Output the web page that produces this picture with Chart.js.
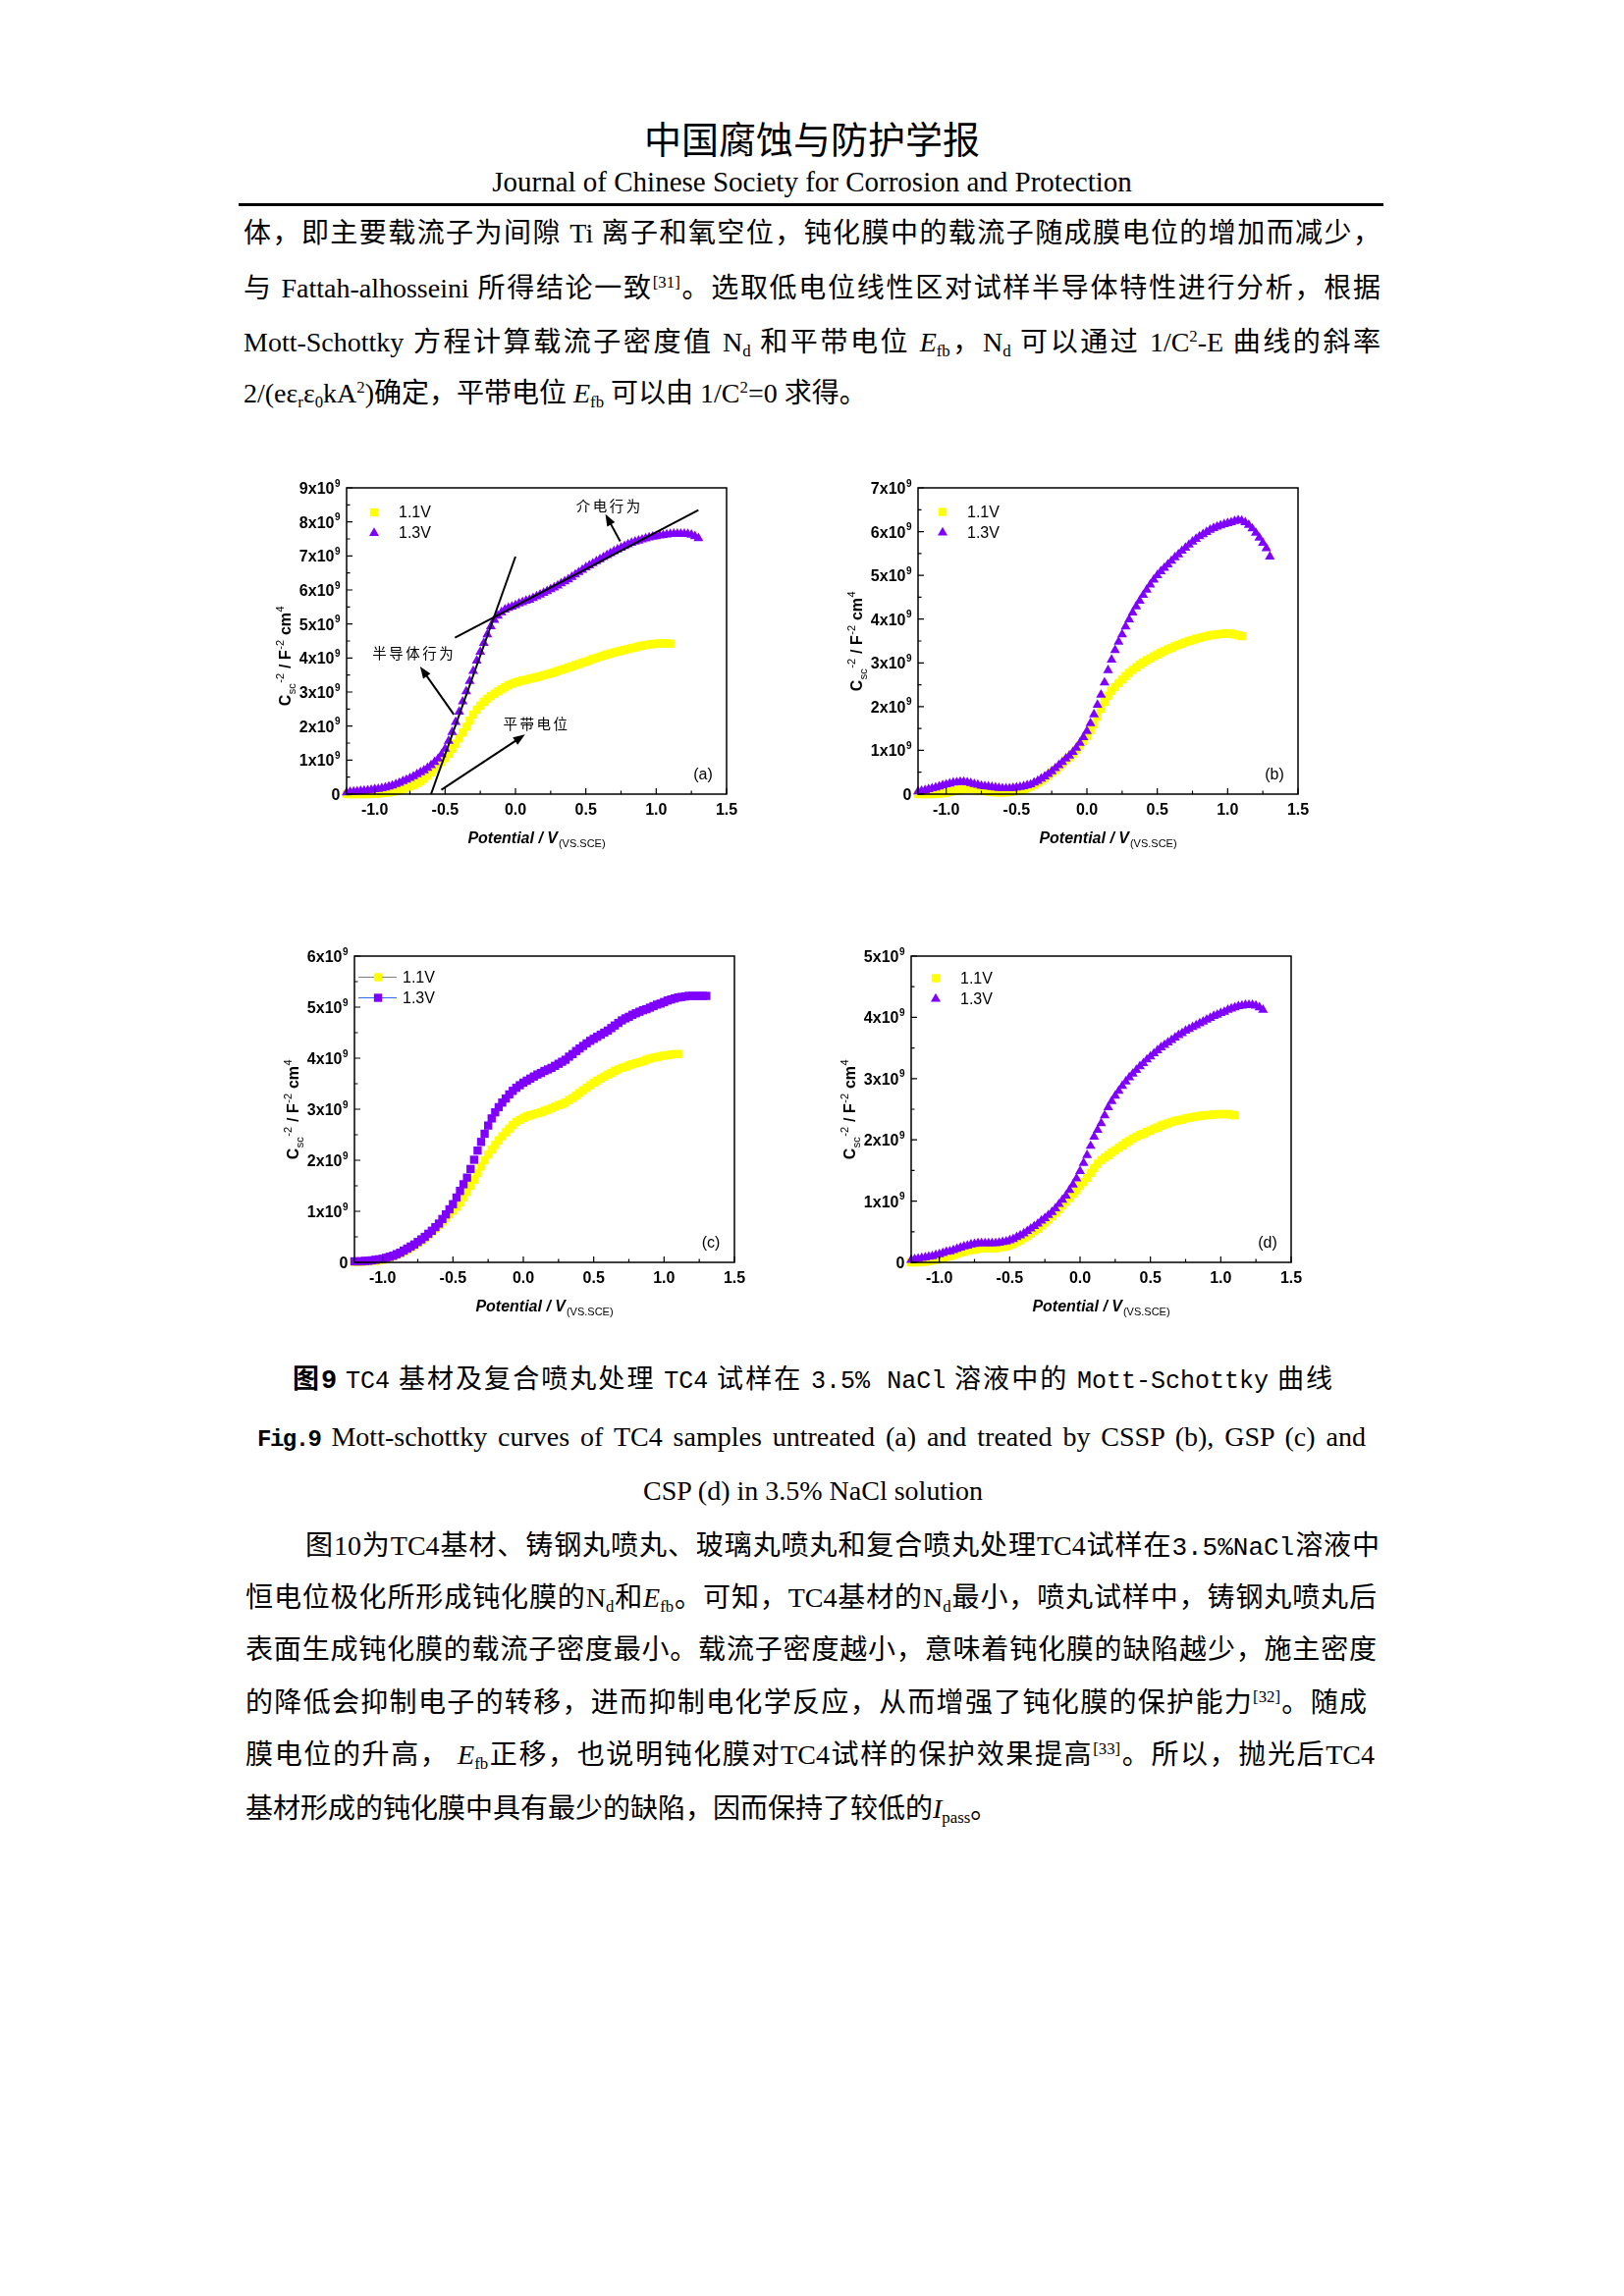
<!DOCTYPE html>
<html>
<head>
<meta charset="utf-8">
<script src="https://cdn.jsdelivr.net/npm/chart.js@4.4.0/dist/chart.umd.min.js"></script>
<style>
html, body { margin: 0; padding: 0; background: #fff; }
#page { position: relative; width: 1654px; height: 2339px; overflow: hidden; background: #fff; color: #000;
  font-family: "Liberation Serif", "Noto Sans CJK SC", serif; }
.ln { position: absolute; font-size: 28px; line-height: 1; text-align: justify; text-align-last: justify; }
.left { text-align: left; text-align-last: left; }
.ctr { text-align: center; text-align-last: center; }
.mono { font-family: "Liberation Mono", "Noto Sans CJK SC", monospace; }
sup, sub { font-size: 0.6em; line-height: 0; }
sup { vertical-align: 0.6em; }
sub { vertical-align: -0.3em; }
canvas { position: absolute; }
</style>
</head>
<body>
<div id="page">
  <div class="ln ctr" style="left:0;width:1654px;top:121px;font-size:38px;font-family:'Noto Sans CJK SC';">中国腐蚀与防护学报</div>
  <div class="ln ctr" style="left:0;width:1654px;top:171px;font-size:29px;">Journal of Chinese Society for Corrosion and Protection</div>
  <div style="position:absolute;left:243px;top:207px;width:1166px;height:3px;background:#000;"></div>

  <div class="ln" style="left:248px;width:1158px;top:224px;">体，即主要载流子为间隙 Ti 离子和氧空位，钝化膜中的载流子随成膜电位的增加而减少，</div>
  <div class="ln" style="left:248px;width:1158px;top:280px;">与 Fattah-alhosseini 所得结论一致<sup>[31]</sup>。选取低电位线性区对试样半导体特性进行分析，根据</div>
  <div class="ln" style="left:248px;width:1158px;top:335px;">Mott-Schottky 方程计算载流子密度值 N<sub>d</sub> 和平带电位 <i>E</i><sub>fb</sub>，N<sub>d</sub> 可以通过 1/C<sup>2</sup>-E 曲线的斜率</div>
  <div class="ln left" style="left:248px;width:1158px;top:387px;">2/(eε<sub>r</sub>ε<sub>0</sub>kA<sup>2</sup>)确定，平带电位 <i>E</i><sub>fb</sub> 可以由 1/C<sup>2</sup>=0 求得。</div>

  <canvas id="chartA" width="500" height="400" style="left:268px;top:477px;width:500px;height:400px;"></canvas>
  <canvas id="chartB" width="500" height="400" style="left:850px;top:477px;width:500px;height:400px;"></canvas>
  <canvas id="chartC" width="500" height="400" style="left:276px;top:954px;width:500px;height:400px;"></canvas>
  <canvas id="chartD" width="500" height="400" style="left:843px;top:954px;width:500px;height:400px;"></canvas>

  <div class="ln" style="left:298px;width:1059px;top:1392px;font-size:27px;"><b>图<span class="mono">9</span></b> <span class="mono" style="font-size:25px">TC4</span> 基材及复合喷丸处理 <span class="mono" style="font-size:25px">TC4</span> 试样在 <span class="mono" style="font-size:25px">3.5% NaCl</span> 溶液中的 <span class="mono" style="font-size:25px">Mott-Schottky</span> 曲线</div>
  <div class="ln" style="left:262px;width:1129px;top:1450px;"><b class="mono" style="font-size:24px;letter-spacing:-1.5px;">Fig.9</b> Mott-schottky curves of TC4 samples untreated (a) and treated by CSSP (b), GSP (c) and</div>
  <div class="ln ctr" style="left:0;width:1656px;top:1505px;">CSP (d) in 3.5% NaCl solution</div>

  <div class="ln" style="left:311px;width:1094px;top:1561px;">图10为TC4基材、铸钢丸喷丸、玻璃丸喷丸和复合喷丸处理TC4试样在<span class="mono" style="font-size:26px">3.5%NaCl</span>溶液中</div>
  <div class="ln" style="left:250px;width:1152px;top:1614px;">恒电位极化所形成钝化膜的N<sub>d</sub>和<i>E</i><sub>fb</sub>。可知，TC4基材的N<sub>d</sub>最小，喷丸试样中，铸钢丸喷丸后</div>
  <div class="ln" style="left:250px;width:1152px;top:1667px;">表面生成钝化膜的载流子密度最小。载流子密度越小，意味着钝化膜的缺陷越少，施主密度</div>
  <div class="ln" style="left:250px;width:1142px;top:1721px;">的降低会抑制电子的转移，进而抑制电化学反应，从而增强了钝化膜的保护能力<sup>[32]</sup>。随成</div>
  <div class="ln" style="left:250px;width:1150px;top:1774px;">膜电位的升高， <i>E</i><sub>fb</sub>正移，也说明钝化膜对TC4试样的保护效果提高<sup>[33]</sup>。所以，抛光后TC4</div>
  <div class="ln left" style="left:250px;width:1152px;top:1829px;">基材形成的钝化膜中具有最少的缺陷，因而保持了较低的<i>I</i><sub>pass</sub>。</div>
</div>

<script>
// Potential / V (vs. SCE), shared by every curve (yellow curves stop at 1.1 V)
const potential = [
  -1.2, -1.175, -1.15, -1.125, -1.1, -1.075, -1.05, -1.025,
  -1.0, -0.975, -0.95, -0.925, -0.9, -0.875, -0.85, -0.825, -0.8, -0.775, -0.75, -0.725, -0.7, -0.675, -0.65, -0.625, -0.6, -0.575, -0.55, -0.525,
  -0.5, -0.475, -0.45, -0.425, -0.4, -0.375, -0.35, -0.325, -0.3, -0.275, -0.25, -0.225, -0.2, -0.175, -0.15, -0.125, -0.1, -0.075, -0.05, -0.025,
  0.0, 0.025, 0.05, 0.075, 0.1, 0.125, 0.15, 0.175, 0.2, 0.225, 0.25, 0.275, 0.3, 0.325, 0.35, 0.375, 0.4, 0.425, 0.45, 0.475,
  0.5, 0.525, 0.55, 0.575, 0.6, 0.625, 0.65, 0.675, 0.7, 0.725, 0.75, 0.775, 0.8, 0.825, 0.85, 0.875, 0.9, 0.925, 0.95, 0.975,
  1.0, 1.025, 1.05, 1.075, 1.1, 1.125, 1.15, 1.175, 1.2, 1.225, 1.25, 1.275, 1.3
];

const seriesNames = ['1.1V', '1.3V'];
const panelLabels = ['(a)', '(b)', '(c)', '(d)'];

// C^-2 values in units of 1e9 F^-2 cm^4
const untreated11 = [
  0, 0, 0, 0, 0, 0, 0, 0.01,
  0.01, 0.02, 0.03, 0.04, 0.05, 0.07, 0.09, 0.12, 0.15, 0.19, 0.23, 0.27, 0.32, 0.38, 0.45, 0.54, 0.64, 0.74, 0.85, 0.95,
  1.06, 1.19, 1.33, 1.48, 1.64, 1.81, 1.98, 2.16, 2.34, 2.48, 2.60, 2.71, 2.80, 2.88, 2.95, 3.02, 3.08, 3.14, 3.20, 3.24,
  3.28, 3.31, 3.34, 3.36, 3.39, 3.41, 3.44, 3.46, 3.49, 3.52, 3.55, 3.58, 3.62, 3.65, 3.68, 3.72, 3.75, 3.79, 3.82, 3.86,
  3.89, 3.93, 3.97, 4.00, 4.04, 4.07, 4.10, 4.13, 4.16, 4.19, 4.21, 4.24, 4.26, 4.29, 4.31, 4.34, 4.36, 4.38, 4.40, 4.41,
  4.42, 4.43, 4.43, 4.43, 4.42
];
const untreated13 = [
  0.05, 0.06, 0.07, 0.08, 0.09, 0.10, 0.11, 0.12,
  0.14, 0.15, 0.17, 0.19, 0.22, 0.25, 0.29, 0.33, 0.38, 0.42, 0.47, 0.52, 0.58, 0.64, 0.70, 0.77, 0.85, 0.94, 1.04, 1.17,
  1.33, 1.56, 1.82, 2.12, 2.42, 2.72, 3.02, 3.32, 3.62, 3.92, 4.18, 4.44, 4.69, 4.93, 5.12, 5.24, 5.34, 5.42, 5.47, 5.51,
  5.55, 5.60, 5.64, 5.68, 5.71, 5.76, 5.81, 5.86, 5.91, 5.96, 6.02, 6.07, 6.13, 6.19, 6.25, 6.31, 6.38, 6.45, 6.52, 6.59,
  6.66, 6.72, 6.78, 6.84, 6.90, 6.96, 7.02, 7.08, 7.14, 7.19, 7.24, 7.29, 7.34, 7.38, 7.42, 7.45, 7.48, 7.51, 7.54, 7.56,
  7.58, 7.60, 7.61, 7.63, 7.64, 7.65, 7.65, 7.65, 7.65, 7.64, 7.62, 7.58, 7.52
];
const cssp11 = [
  0, 0, 0, 0, 0, 0.01, 0.01, 0.02,
  0.03, 0.05, 0.07, 0.09, 0.10, 0.11, 0.12, 0.12, 0.11, 0.10, 0.08, 0.07, 0.06, 0.05, 0.04, 0.04, 0.04, 0.04, 0.05, 0.06,
  0.07, 0.09, 0.11, 0.14, 0.17, 0.21, 0.26, 0.31, 0.36, 0.42, 0.49, 0.55, 0.62, 0.69, 0.77, 0.84, 0.92, 1.01, 1.11, 1.22,
  1.33, 1.46, 1.60, 1.77, 1.95, 2.11, 2.25, 2.36, 2.45, 2.54, 2.62, 2.70, 2.77, 2.84, 2.90, 2.96, 3.01, 3.06, 3.10, 3.15,
  3.19, 3.23, 3.27, 3.31, 3.34, 3.38, 3.41, 3.44, 3.47, 3.50, 3.52, 3.55, 3.57, 3.59, 3.61, 3.63, 3.64, 3.65, 3.66, 3.67,
  3.67, 3.67, 3.65, 3.63, 3.61
];
const cssp13 = [
  0.06, 0.07, 0.09, 0.11, 0.13, 0.15, 0.17, 0.20,
  0.22, 0.24, 0.26, 0.27, 0.28, 0.28, 0.27, 0.25, 0.23, 0.21, 0.19, 0.18, 0.17, 0.16, 0.15, 0.14, 0.13, 0.13, 0.13, 0.14,
  0.15, 0.16, 0.18, 0.20, 0.22, 0.26, 0.30, 0.35, 0.40, 0.46, 0.52, 0.59, 0.66, 0.73, 0.81, 0.88, 0.96, 1.06, 1.17, 1.30,
  1.44, 1.62, 1.82, 2.04, 2.27, 2.55, 2.83, 3.07, 3.29, 3.48, 3.65, 3.83, 3.99, 4.15, 4.29, 4.42, 4.55, 4.67, 4.79, 4.90,
  5.00, 5.09, 5.17, 5.25, 5.33, 5.41, 5.48, 5.56, 5.63, 5.70, 5.77, 5.83, 5.89, 5.94, 5.99, 6.04, 6.08, 6.11, 6.14, 6.17,
  6.19, 6.21, 6.24, 6.26, 6.25, 6.21, 6.15, 6.07, 5.97, 5.86, 5.74, 5.62, 5.43
];
const gsp11 = [
  0.01, 0.01, 0.01, 0.02, 0.02, 0.03, 0.03, 0.04,
  0.05, 0.07, 0.09, 0.12, 0.15, 0.18, 0.21, 0.25, 0.29, 0.33, 0.38, 0.43, 0.48, 0.54, 0.60, 0.66, 0.73, 0.80, 0.87, 0.94,
  1.01, 1.09, 1.17, 1.27, 1.38, 1.50, 1.62, 1.75, 1.88, 2.00, 2.11, 2.21, 2.30, 2.39, 2.47, 2.55, 2.62, 2.69, 2.75, 2.79,
  2.83, 2.86, 2.88, 2.90, 2.92, 2.94, 2.97, 2.99, 3.02, 3.05, 3.08, 3.10, 3.13, 3.18, 3.22, 3.27, 3.32, 3.37, 3.42, 3.47,
  3.52, 3.56, 3.60, 3.64, 3.68, 3.71, 3.75, 3.78, 3.81, 3.83, 3.86, 3.88, 3.90, 3.92, 3.94, 3.97, 3.99, 4.01, 4.02, 4.04,
  4.05, 4.06, 4.07, 4.08, 4.08
];
const gsp13 = [
  0.02, 0.02, 0.02, 0.03, 0.03, 0.04, 0.05, 0.06,
  0.07, 0.09, 0.11, 0.13, 0.16, 0.19, 0.23, 0.27, 0.31, 0.35, 0.40, 0.45, 0.50, 0.56, 0.62, 0.69, 0.76, 0.85, 0.94, 1.04,
  1.14, 1.27, 1.40, 1.53, 1.66, 1.83, 2.01, 2.19, 2.36, 2.52, 2.68, 2.82, 2.94, 3.04, 3.13, 3.21, 3.29, 3.36, 3.42, 3.47,
  3.52, 3.56, 3.60, 3.64, 3.68, 3.71, 3.75, 3.78, 3.81, 3.85, 3.89, 3.93, 3.97, 4.03, 4.08, 4.14, 4.19, 4.24, 4.29, 4.34,
  4.38, 4.42, 4.46, 4.50, 4.54, 4.59, 4.64, 4.69, 4.74, 4.78, 4.81, 4.85, 4.88, 4.91, 4.94, 4.96, 4.99, 5.02, 5.05, 5.07,
  5.10, 5.13, 5.15, 5.17, 5.19, 5.20, 5.21, 5.22, 5.22, 5.22, 5.22, 5.22, 5.22
];
const csp11 = [
  0, 0, 0, 0.01, 0.01, 0.02, 0.03, 0.04,
  0.06, 0.07, 0.09, 0.10, 0.12, 0.14, 0.16, 0.17, 0.19, 0.20, 0.21, 0.22, 0.23, 0.23, 0.23, 0.23, 0.23, 0.24, 0.25, 0.26,
  0.28, 0.30, 0.33, 0.36, 0.40, 0.43, 0.47, 0.51, 0.55, 0.60, 0.65, 0.70, 0.75, 0.81, 0.87, 0.93, 0.99, 1.05, 1.12, 1.18,
  1.25, 1.31, 1.38, 1.46, 1.54, 1.61, 1.67, 1.71, 1.75, 1.79, 1.83, 1.87, 1.91, 1.95, 1.98, 2.02, 2.05, 2.08, 2.10, 2.13,
  2.15, 2.18, 2.20, 2.23, 2.25, 2.27, 2.29, 2.31, 2.32, 2.33, 2.35, 2.36, 2.37, 2.38, 2.39, 2.40, 2.40, 2.41, 2.41, 2.42,
  2.42, 2.42, 2.42, 2.41, 2.40
];
const csp13 = [
  0.04, 0.05, 0.06, 0.07, 0.08, 0.09, 0.10, 0.12,
  0.13, 0.15, 0.17, 0.18, 0.20, 0.22, 0.24, 0.26, 0.27, 0.29, 0.30, 0.31, 0.31, 0.31, 0.31, 0.31, 0.31, 0.32, 0.33, 0.34,
  0.36, 0.38, 0.41, 0.44, 0.47, 0.51, 0.55, 0.59, 0.63, 0.68, 0.72, 0.77, 0.82, 0.88, 0.95, 1.02, 1.09, 1.18, 1.27, 1.37,
  1.49, 1.62, 1.75, 1.90, 2.05, 2.16, 2.27, 2.40, 2.53, 2.63, 2.72, 2.80, 2.88, 2.95, 3.02, 3.08, 3.14, 3.20, 3.25, 3.31,
  3.36, 3.41, 3.46, 3.51, 3.55, 3.59, 3.63, 3.67, 3.71, 3.74, 3.78, 3.81, 3.84, 3.87, 3.90, 3.93, 3.96, 3.99, 4.02, 4.04,
  4.07, 4.09, 4.12, 4.14, 4.16, 4.18, 4.19, 4.20, 4.20, 4.20, 4.19, 4.16, 4.12
];

// axis ticks
const xMajorTicks = [-1.0, -0.5, 0.0, 0.5, 1.0, 1.5];
const xTickLabels = ['-1.0', '-0.5', '0.0', '0.5', '1.0', '1.5'];
const xMinorTicks = [-0.75, -0.25, 0.25, 0.75, 1.25];
const yTicksA = [0, 1, 2, 3, 4, 5, 6, 7, 8, 9];
const yTicksB = [0, 1, 2, 3, 4, 5, 6, 7];
const yTicksC = [0, 1, 2, 3, 4, 5, 6];
const yTicksD = [0, 1, 2, 3, 4, 5];

// annotations of panel (a), in data units
const tangentSteepA = [{ x: -0.60, y: 0 }, { x: 0.0, y: 6.98 }];
const tangentFlatA = [{ x: -0.43, y: 4.6 }, { x: 1.30, y: 8.35 }];
const arrowsA = [
  { from: [0.744, 7.43], to: [0.639, 8.23] },
  { from: [-0.438, 2.34], to: [-0.678, 3.75] },
  { from: [-0.527, 0.125], to: [0.068, 1.75] }
];
const notesA = [
  { text: '介电行为', x: 0.43, y: 8.47 },
  { text: '半导体行为', x: -1.016, y: 4.13 },
  { text: '平带电位', x: -0.088, y: 2.07 }
];

const YELLOW = '#ffff00';
const PURPLE = '#7f00ff';
const SANS = '"Liberation Sans", Arial, sans-serif';
const TRI_R = 5.8;
const SQ_R = 5.9;

function pts(vals) {
  return vals.map((v, i) => ({ x: potential[i], y: v }));
}

function marker(ctx, style, r, x, y) {
  ctx.beginPath();
  if (style === 'triangle') {
    for (let k = 0; k < 3; k++) {
      const a = k * 2 * Math.PI / 3;
      const px = x + Math.sin(a) * r, py = y - Math.cos(a) * r;
      if (k === 0) ctx.moveTo(px, py); else ctx.lineTo(px, py);
    }
    ctx.closePath();
  } else {
    const s = r * Math.SQRT1_2;
    ctx.rect(x - s, y - s, 2 * s, 2 * s);
  }
  ctx.fill();
}

function arrow(ctx, x1, y1, x2, y2) {
  const ang = Math.atan2(y2 - y1, x2 - x1), L = 12, W = 4.5;
  ctx.beginPath();
  ctx.moveTo(x1, y1);
  ctx.lineTo(x2 - Math.cos(ang) * L * 0.8, y2 - Math.sin(ang) * L * 0.8);
  ctx.stroke();
  ctx.beginPath();
  ctx.moveTo(x2, y2);
  ctx.lineTo(x2 - L * Math.cos(ang) + W * Math.sin(ang), y2 - L * Math.sin(ang) - W * Math.cos(ang));
  ctx.lineTo(x2 - L * Math.cos(ang) - W * Math.sin(ang), y2 - L * Math.sin(ang) + W * Math.cos(ang));
  ctx.closePath();
  ctx.fill();
}

// frame, ticks, labels, legend drawn with the chart's own scales
const framePlugin = {
  id: 'frame',
  afterDraw(chart, args, o) {
    const ctx = chart.ctx, a = chart.chartArea;
    const xs = chart.scales.x, ys = chart.scales.y;
    ctx.save();
    ctx.strokeStyle = '#000';
    ctx.fillStyle = '#000';

    ctx.lineWidth = 1.5;
    ctx.strokeRect(a.left, a.top, a.right - a.left, a.bottom - a.top);

    ctx.lineWidth = 1.2;
    ctx.beginPath();
    xMajorTicks.forEach(v => {
      const p = xs.getPixelForValue(v);
      ctx.moveTo(p, a.bottom); ctx.lineTo(p, a.bottom - 6);
    });
    xMinorTicks.forEach(v => {
      const p = xs.getPixelForValue(v);
      ctx.moveTo(p, a.bottom); ctx.lineTo(p, a.bottom - 3.5);
    });
    o.yTicks.forEach((v, i) => {
      const p = ys.getPixelForValue(v);
      ctx.moveTo(a.left, p); ctx.lineTo(a.left + 6, p);
      if (i < o.yTicks.length - 1) {
        const m = (p + ys.getPixelForValue(o.yTicks[i + 1])) / 2;
        ctx.moveTo(a.left, m); ctx.lineTo(a.left + 3.5, m);
      }
    });
    ctx.stroke();

    // x tick labels
    ctx.font = 'bold 16px ' + SANS;
    ctx.textAlign = 'center';
    ctx.textBaseline = 'alphabetic';
    xMajorTicks.forEach((v, i) => ctx.fillText(xTickLabels[i], xs.getPixelForValue(v), a.bottom + 20.5));

    // y tick labels  "Nx10^9"
    ctx.textAlign = 'left';
    o.yTicks.forEach(v => {
      const p = ys.getPixelForValue(v);
      const main = v === 0 ? '0' : v + 'x10';
      ctx.font = 'bold 10px ' + SANS;
      const sw = v === 0 ? 0 : ctx.measureText('9').width + 0.5;
      ctx.font = 'bold 16px ' + SANS;
      const mw = ctx.measureText(main).width;
      const x0 = a.left - 6.5 - sw - mw;
      ctx.fillText(main, x0, p + 6);
      if (v !== 0) {
        ctx.font = 'bold 10px ' + SANS;
        ctx.fillText('9', x0 + mw + 0.5, p - 1.5);
      }
    });

    // x title
    const mainF = 'italic bold 16px ' + SANS, subF = '11px ' + SANS;
    ctx.font = mainF;
    const t1 = 'Potential / V', w1 = ctx.measureText(t1).width;
    ctx.font = subF;
    const t2 = '(VS.SCE)', w2 = ctx.measureText(t2).width;
    const tx = (a.left + a.right) / 2 - (w1 + w2 + 1) / 2;
    ctx.font = mainF;
    ctx.fillText(t1, tx, a.bottom + 49.5);
    ctx.font = subF;
    ctx.fillText(t2, tx + w1 + 1, a.bottom + 54);

    // y title, rotated
    const segs = [
      ['C', 'bold 16px ' + SANS, 0], ['sc', '11px ' + SANS, 5], ['-2', '11px ' + SANS, -7],
      [' / F', 'bold 16px ' + SANS, 0], ['-2', '11px ' + SANS, -7], [' cm', 'bold 16px ' + SANS, 0],
      ['4', '11px ' + SANS, -7]
    ];
    let total = 0;
    segs.forEach(s => { ctx.font = s[1]; total += ctx.measureText(s[0]).width + 0.5; });
    ctx.save();
    ctx.translate(a.left - 57.5, (a.top + a.bottom) / 2 + (o.yTitleShift || 0));
    ctx.rotate(-Math.PI / 2);
    let cx = -total / 2;
    segs.forEach(s => {
      ctx.font = s[1];
      ctx.fillText(s[0], cx, s[2]);
      cx += ctx.measureText(s[0]).width + 0.5;
    });
    ctx.restore();

    // panel label
    ctx.font = '16px ' + SANS;
    ctx.textAlign = 'center';
    ctx.textBaseline = 'middle';
    ctx.fillText(o.panel, a.right - 24, a.bottom - 19);

    // legend
    ctx.textAlign = 'left';
    ctx.textBaseline = 'middle';
    o.legend.forEach((it, i) => {
      const ly = a.top + o.legendTop + i * 21;
      const lx = a.left + o.legendX;
      if (it.line) {
        ctx.strokeStyle = it.line;
        ctx.lineWidth = 1.2;
        ctx.beginPath();
        ctx.moveTo(lx - 20, ly); ctx.lineTo(lx + 19, ly);
        ctx.stroke();
      }
      ctx.fillStyle = it.color;
      marker(ctx, it.style, it.radius, lx, ly);
      ctx.fillStyle = '#000';
      ctx.font = '16px ' + SANS;
      ctx.fillText(it.text, lx + 25, ly + 1);
    });

    // arrows & notes
    ctx.strokeStyle = '#000';
    ctx.fillStyle = '#000';
    ctx.lineWidth = 2;
    (o.arrows || []).forEach(ar => {
      arrow(ctx, xs.getPixelForValue(ar.from[0]), ys.getPixelForValue(ar.from[1]),
        xs.getPixelForValue(ar.to[0]), ys.getPixelForValue(ar.to[1]));
    });
    ctx.font = '14.5px "Noto Sans CJK SC"';
    ctx.textBaseline = 'middle';
    (o.notes || []).forEach(n => {
      let nx = xs.getPixelForValue(n.x);
      const ny = ys.getPixelForValue(n.y);
      for (const ch of n.text) { ctx.fillText(ch, nx, ny); nx += 17; }
    });
    ctx.restore();
  }
};

function makeChart(id, cfg) {
  const r13 = cfg.style13 === 'triangle' ? TRI_R : SQ_R;
  const datasets = [
    {
      label: seriesNames[1], data: pts(cfg.s13), backgroundColor: PURPLE, borderColor: PURPLE,
      pointStyle: cfg.style13, pointRadius: r13, pointBorderWidth: 0, clip: false, order: 1
    },
    {
      label: seriesNames[0], data: pts(cfg.s11), backgroundColor: YELLOW, borderColor: YELLOW,
      pointStyle: 'rect', pointRadius: SQ_R, pointBorderWidth: 0, clip: false, order: 2
    }
  ];
  (cfg.lines || []).forEach(l => datasets.push({
    data: l, showLine: true, borderColor: '#000', borderWidth: 2, pointRadius: 0, order: 0
  }));
  const legend = [
    { text: seriesNames[0], color: YELLOW, style: 'rect', radius: SQ_R, line: cfg.legendLines ? '#808080' : null },
    { text: seriesNames[1], color: PURPLE, style: cfg.style13, radius: r13, line: cfg.legendLines ? '#2f6bff' : null }
  ];
  return new Chart(document.getElementById(id), {
    type: 'scatter',
    data: { datasets },
    options: {
      responsive: false,
      animation: false,
      devicePixelRatio: 1,
      events: [],
      layout: { padding: { left: 85, top: 20, right: 28, bottom: 68 } },
      scales: {
        x: { type: 'linear', min: -1.2, max: 1.5, display: false },
        y: { type: 'linear', min: 0, max: cfg.yTicks[cfg.yTicks.length - 1], display: false }
      },
      plugins: {
        legend: { display: false },
        tooltip: { enabled: false },
        frame: {
          yTicks: cfg.yTicks, panel: cfg.panel, legend, legendX: cfg.legendX, legendTop: cfg.legendTop,
          yTitleShift: cfg.yTitleShift, arrows: cfg.arrows, notes: cfg.notes
        }
      }
    },
    plugins: [framePlugin]
  });
}

makeChart('chartA', {
  s11: untreated11, s13: untreated13, style13: 'triangle', yTicks: yTicksA, panel: panelLabels[0],
  legendX: 28, legendTop: 25, yTitleShift: 15, lines: [tangentSteepA, tangentFlatA], arrows: arrowsA, notes: notesA
});
makeChart('chartB', {
  s11: cssp11, s13: cssp13, style13: 'triangle', yTicks: yTicksB, panel: panelLabels[1],
  legendX: 25, legendTop: 24.5
});
makeChart('chartC', {
  s11: gsp11, s13: gsp13, style13: 'rect', yTicks: yTicksC, panel: panelLabels[2],
  legendX: 24, legendTop: 21.5, legendLines: true
});
makeChart('chartD', {
  s11: csp11, s13: csp13, style13: 'triangle', yTicks: yTicksD, panel: panelLabels[3],
  legendX: 25, legendTop: 22.5
});
</script>
</body>
</html>
